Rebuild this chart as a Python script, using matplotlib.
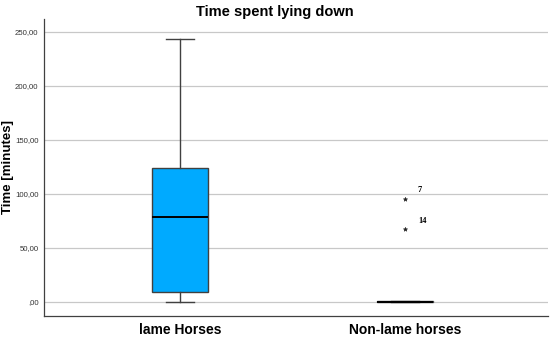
import matplotlib
matplotlib.use("Agg")
import matplotlib.pyplot as plt
from matplotlib.ticker import FuncFormatter

plt.rcParams['font.family'] = ['Liberation Sans', 'DejaVu Sans']

# box statistics (minutes)
groups = ["lame Horses", "Non-lame horses"]
q1 = [9.5, 0.0]
medians = [79.0, 0.0]
q3 = [123.5, 0.6]
whisker_low = [0.0, 0.0]
whisker_high = [243.0, 0.6]
outliers = [[], [95.5, 67.5]]
outlier_ids = [[], ["7", "14"]]

stats = []
for i, name in enumerate(groups):
    stats.append({
        "label": name, "q1": q1[i], "med": medians[i], "q3": q3[i],
        "whislo": whisker_low[i], "whishi": whisker_high[i],
        "fliers": outliers[i],
    })

fig = plt.figure(figsize=(5.5, 3.43), dpi=100)
ax = fig.add_axes([0.08, 0.079, 0.916, 0.866])

positions = [1, 2]
ax.bxp(stats, positions=positions, widths=0.248, patch_artist=True,
       boxprops=dict(facecolor="#00aaff", edgecolor="#404040", linewidth=1.0),
       medianprops=dict(color="black", linewidth=1.4),
       whiskerprops=dict(color="#404040", linewidth=1.0),
       capprops=dict(color="#404040", linewidth=1.0),
       capwidths=0.124,
       flierprops=dict(marker="*", markersize=3.2, markerfacecolor="#222222",
                       markeredgecolor="#222222", markeredgewidth=0.4,
                       linestyle="none"))

# outlier case numbers
for i, pos in enumerate(positions):
    for val, lab in zip(outliers[i], outlier_ids[i]):
        ax.annotate(lab, (pos, val), xytext=(9, 6), textcoords="offset points",
                    fontsize=6, fontweight="bold", family="Liberation Serif",
                    ha="left", va="center")

ax.set_xlim(0.394, 2.633)
ax.set_ylim(-13, 262)
ax.set_yticks([0, 50, 100, 150, 200, 250])
ax.yaxis.set_major_formatter(FuncFormatter(
    lambda v, p: ",00" if v == 0 else f"{v:.2f}".replace(".", ",")))
ax.set_xticks(positions)
ax.set_xticklabels(groups, fontsize=10, fontweight="bold")
ax.tick_params(axis="y", labelsize=5.6, labelcolor="#333333", length=0, pad=4)
ax.tick_params(axis="x", length=0, pad=5)

ax.grid(axis="y", color="#c8c8c8", linewidth=0.9)
ax.set_axisbelow(True)
for s in ["top", "right"]:
    ax.spines[s].set_visible(False)
for s in ["left", "bottom"]:
    ax.spines[s].set_color("#404040")
    ax.spines[s].set_linewidth(0.9)

ax.set_ylabel("Time [minutes]", fontsize=9.5, fontweight="bold")
ax.yaxis.set_label_coords(-0.059, 0.5)
fig.suptitle("Time spent lying down", fontsize=10.5, fontweight="bold", y=0.985)

fig.savefig("out.png", dpi=100)
